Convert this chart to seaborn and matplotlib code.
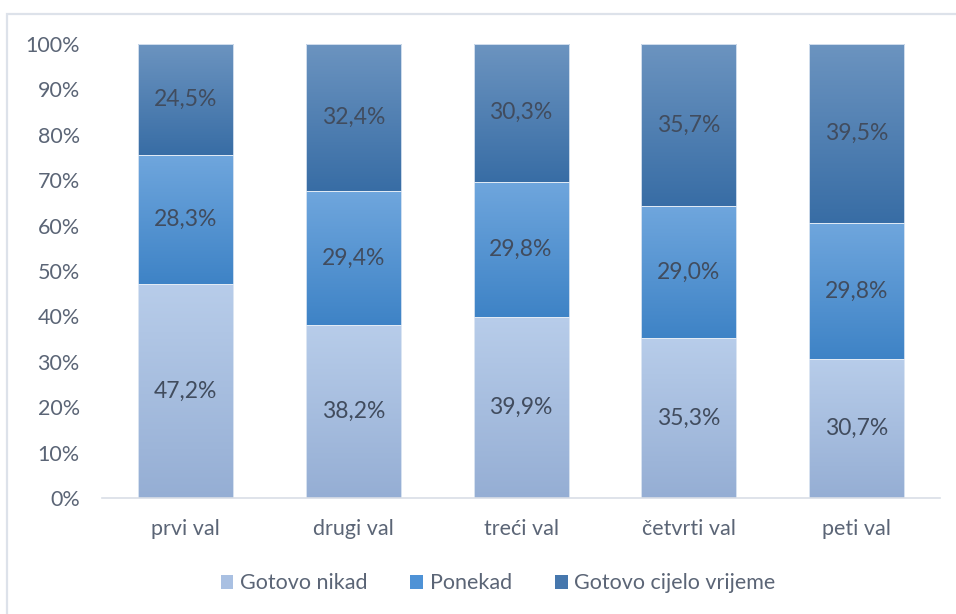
import numpy as np
import pandas as pd
import matplotlib
matplotlib.use("Agg")
import matplotlib.pyplot as plt
from matplotlib.colors import LinearSegmentedColormap
from matplotlib.patches import Rectangle, Patch
import seaborn as sns

waves = ["prvi val", "drugi val", "treći val", "četvrti val", "peti val"]
series_names = ["Gotovo nikad", "Ponekad", "Gotovo cijelo vrijeme"]
gotovo_nikad = [47.2, 38.2, 39.9, 35.3, 30.7]
ponekad = [28.3, 29.4, 29.8, 29.0, 29.8]
cijelo_vrijeme = [24.5, 32.4, 30.3, 35.7, 39.5]
y_ticks = [0, 10, 20, 30, 40, 50, 60, 70, 80, 90, 100]

# (top colour, bottom colour) of each segment's vertical gradient, plus legend swatch
gradients = [("#b8cdea", "#95aed4"), ("#6fa6dd", "#3e83c6"), ("#6c94c0", "#386da5")]
swatches = ["#a9c0e2", "#4e92d6", "#4677ad"]
text_col = "#5b6576"
label_col = "#414c5e"

sns.set_theme(style="white")
plt.rcParams["font.family"] = ["Lato", "DejaVu Sans"]

fig = plt.figure(figsize=(9.56, 6.14), dpi=100)
ax = fig.add_axes([0.1067, 0.1889, 0.8766, 0.7394])

df = pd.DataFrame({"val": waves,
                   series_names[0]: gotovo_nikad,
                   series_names[1]: ponekad,
                   series_names[2]: cijelo_vrijeme})

bottom = np.zeros(len(waves))
seg_patches = []
for name, swatch in zip(series_names, swatches):
    vals = df[name].to_numpy()
    n_before = len(ax.patches)
    sns.barplot(data=df, x="val", y=name, bottom=bottom, color=swatch,
                width=0.567, saturation=1, ax=ax, order=waves,
                edgecolor="#e3ebf5", linewidth=0.6)
    seg_patches.append(list(ax.patches[n_before:]))
    bottom = bottom + vals

ax.set_xlim(-0.5, len(waves) - 0.5)
ax.set_ylim(0, 100)

# vertical gradient fill inside every bar segment
grad = np.linspace(0, 1, 256).reshape(-1, 1)
for (top_c, bot_c), patches in zip(gradients, seg_patches):
    cmap = LinearSegmentedColormap.from_list("seg", [bot_c, top_c])
    for p in patches:
        x0, y0 = p.get_x(), p.get_y()
        w, h = p.get_width(), p.get_height()
        im = ax.imshow(grad, cmap=cmap, origin="lower", aspect="auto",
                       extent=[x0, x0 + w, y0, y0 + h], zorder=p.get_zorder() + 0.1,
                       interpolation="bilinear")
        im.set_clip_path(p)
        p.set_facecolor("none")
        p.set_zorder(p.get_zorder() + 0.2)

ax.set_xlim(-0.5, len(waves) - 0.5)
ax.set_ylim(0, 100)
ax.set_aspect("auto")

# value labels centred in each segment
bottom = np.zeros(len(waves))
for name in series_names:
    vals = df[name].to_numpy()
    for i, v in enumerate(vals):
        ax.text(i, bottom[i] + v / 2, f"{v:.1f}%".replace(".", ","),
                ha="center", va="center", fontsize=16.5, color=label_col, zorder=5)
    bottom = bottom + vals

ax.set_yticks(y_ticks)
ax.set_yticklabels([f"{t}%" for t in y_ticks])
ax.tick_params(axis="both", length=0, labelsize=15.5, colors=text_col)
ax.tick_params(axis="y", pad=16)
ax.tick_params(axis="x", pad=15)
ax.set_xlabel("")
ax.set_ylabel("")
for side in ["top", "right", "left"]:
    ax.spines[side].set_visible(False)
ax.spines["bottom"].set_color("#d9dee6")
ax.spines["bottom"].set_linewidth(1.2)
ax.grid(False)

handles = [Patch(facecolor=c, edgecolor="none") for c in swatches]
fig.legend(handles, series_names, loc="center", bbox_to_anchor=(0.521, 0.05),
           ncol=3, frameon=False, fontsize=15.5, handlelength=0.6, handleheight=0.6,
           handletextpad=0.3, columnspacing=2.0, labelcolor=text_col)

# chart area border
fig.patches.append(Rectangle((7 / 956, -0.05), 1.0, 1 - 14 / 614 + 0.05,
                             transform=fig.transFigure, fill=False,
                             edgecolor="#dde2ea", linewidth=1.6, zorder=0))

fig.savefig("out.png", dpi=100, facecolor="white")
